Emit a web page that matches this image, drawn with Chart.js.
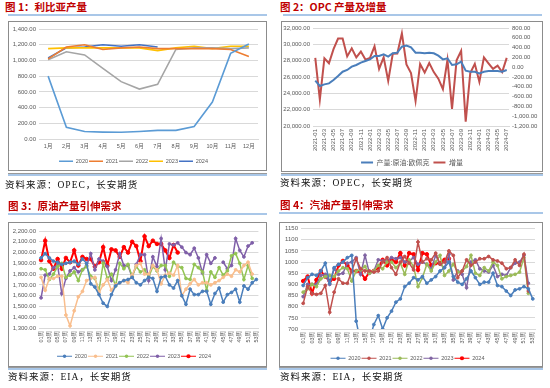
<!DOCTYPE html>
<html>
<head>
<meta charset="utf-8">
<script src="https://cdn.jsdelivr.net/npm/chart.js@4.4.0/dist/chart.umd.min.js"></script>
<style>
body { margin:0; width:550px; height:388px; background:#fff; position:relative; overflow:hidden; }
.title { position:absolute; font-family:"Noto Sans CJK SC"; font-weight:700; font-size:10.5px; line-height:14px; color:#c00000; white-space:nowrap; }
.rule { position:absolute; height:2px; background:#a9c7e8; }
.rule2 { position:absolute; height:2px; background:#a9c7e8; border-top:1px solid #9a9a9a; }
.box { position:absolute; border:1px solid #8c8c8c; box-sizing:border-box; }
.src { position:absolute; font-family:"Liberation Serif","Noto Sans CJK SC"; font-size:9.5px; letter-spacing:1px; line-height:12px; color:#111; white-space:nowrap; }
canvas { position:absolute; }
</style>
</head>
<body>
<div class="title" style="left:5px;top:0px">图 1：利比亚产量</div>
<div class="rule" style="left:8px;top:14px;width:259px"></div>
<div class="box" style="left:8px;top:21px;width:259px;height:150px"></div>
<canvas id="c1" width="256" height="152" style="left:9px;top:22px"></canvas>
<div class="rule2" style="left:8px;top:173px;width:259px"></div>
<div class="src" style="left:5px;top:179px">资料来源：OPEC，长安期货</div>

<div class="title" style="left:280px;top:0px">图 2：OPC 产量及增量</div>
<div class="rule" style="left:283px;top:14px;width:259px"></div>
<div class="box" style="left:281px;top:21px;width:262px;height:151px"></div>
<canvas id="c2" width="260" height="155" style="left:282px;top:21px"></canvas>
<div class="rule2" style="left:281px;top:173px;width:262px"></div>
<div class="src" style="left:280px;top:177px">资料来源：OPEC，长安期货</div>

<div class="title" style="left:8px;top:199px">图 3：原油产量引伸需求</div>
<div class="rule" style="left:8px;top:213px;width:259px"></div>
<div class="box" style="left:8px;top:222px;width:259px;height:145px"></div>
<canvas id="c3" width="257" height="147" style="left:9px;top:222px"></canvas>
<div class="rule2" style="left:8px;top:367px;width:259px"></div>
<div class="src" style="left:8px;top:371px">资料来源：EIA，长安期货</div>

<div class="title" style="left:280px;top:198px">图 4：汽油产量引伸需求</div>
<div class="rule" style="left:279px;top:212px;width:264px"></div>
<div class="box" style="left:279px;top:222px;width:264px;height:145px"></div>
<canvas id="c4" width="263" height="149" style="left:280px;top:222px"></canvas>
<div class="rule2" style="left:279px;top:367px;width:264px"></div>
<div class="src" style="left:280px;top:371px">资料来源：EIA，长安期货</div>

<script>
// 图1 利比亚产量
var months = ['1月', '2月', '3月', '4月', '5月', '6月', '7月', '8月', '9月', '10月', '11月', '12月'];
var libya2020 = [800, 150, 95, 88, 85, 95, 110, 110, 160, 470, 1090, 1210];
var libya2021 = [1020, 1170, 1200, 1140, 1160, 1170, 1150, 1150, 1150, 1150, 1140, 1050];
var libya2022 = [1010, 1110, 1070, 900, 730, 635, 695, 1140, 1160, 1160, 1150, 1160];
var libya2023 = [1150, 1160, 1160, 1160, 1160, 1160, 1125, 1160, 1180, 1150, 1180, 1180];
var libya2024 = [1030, 1160, 1170, 1200, 1180, 1200, 1170];

// 图2 OPEC 产量及增量
var opecMonths = ['2021-01', '2021-02', '2021-03', '2021-04', '2021-05', '2021-06', '2021-07', '2021-08', '2021-09', '2021-10', '2021-11', '2021-12',
  '2022-01', '2022-02', '2022-03', '2022-04', '2022-05', '2022-06', '2022-07', '2022-08', '2022-09', '2022-10', '2022-11', '2022-12',
  '2023-01', '2023-02', '2023-03', '2023-04', '2023-05', '2023-06', '2023-07', '2023-08', '2023-09', '2023-10', '2023-11', '2023-12',
  '2024-01', '2024-02', '2024-03', '2024-04', '2024-05', '2024-06', '2024-07'];
var opecProd = [25550, 24900, 25100, 25220, 25630, 26120, 26650, 26860, 27270, 27470, 27760, 27960,
  28160, 28570, 28570, 28780, 28490, 28900, 28980, 29710, 29840, 29630, 28980, 28980,
  28900, 28980, 28900, 28610, 28160, 28290, 27470, 27550, 27880, 26780, 26650, 26650,
  26450, 26650, 26730, 26730, 26730, 26650, 26860];
var opecInc = [190, -660, 180, 80, 370, 585, 585, 220, 385, 200, 320, 155,
  190, 425, -35, 200, -280, 275, 280, 690, 55, -120, -690, 65,
  -110, 85, -100, -235, -450, 150, -850, 140, 335, -1110, -120, 70,
  -300, 200, 80, -35, 30, -100, 190];

// 周度标签
var weeks = ['01周', '02周', '03周', '04周', '05周', '06周', '07周', '08周', '09周', '10周', '11周', '12周', '13周', '14周', '15周', '16周', '17周', '18周',
  '19周', '20周', '21周', '22周', '23周', '24周', '25周', '26周', '27周', '28周', '29周', '30周', '31周', '32周', '33周', '34周', '35周', '36周',
  '37周', '38周', '39周', '40周', '41周', '42周', '43周', '44周', '45周', '46周', '47周', '48周', '49周', '50周', '51周', '52周', '53周'];

// 图3 原油产量引伸需求
var crude2020 = [1950, 1990, 1950, 1920, 1910, 1890, 1900, 1910, 1920, 1890, 1940, 1900, 1710, 1680, 1610, 1530, 1500, 1610, 1690, 1720, 1740, 1750, 1770, 1720, 1700, 1740,
  1770, 1760, 1640, 1770, 1780, 1700, 1670, 1740, 1600, 1520, 1660, 1610, 1610, 1640, 1640, 1520, 1620, 1670, 1540, 1610, 1630, 1660, 1540, 1690, 1660, 1720, 1750];
var crude2021 = [1770, 1650, 1760, 1760, 1780, 1780, 1420, 1320, 1460, 1590, 1640, 1740, 1760, 1770, 1630, 1700, 1750, 1650, 1700, 1720, 1740, 1720, 1790, 1880, 1900, 1800,
  1800, 1880, 1840, 1710, 1790, 1810, 1790, 1880, 1600, 1660, 1710, 1750, 1700, 1720, 1720, 1700, 1720, 1740, 1770, 1800, 1780, 1840, 1820, 1880, 1910, 1800];
var crude2022 = [1850, 1840, 1750, 1800, 1870, 1900, 1770, 1790, 1820, 1740, 1840, 1870, 1780, 1760, 1650, 1900, 1760, 1800, 1690, 1900, 1850, 1890, 1780, 1870, 1820, 1840,
  1770, 1870, 1830, 1880, 1880, 1780, 1910, 1870, 1860, 1760, 1750, 1890, 1860, 1820, 1650, 1820, 1770, 1860, 1790, 1830, 1970, 1990, 1900, 1750, 1880, 1760];
var crude2023 = [1580, 1790, 1800, 1860, 1880, 1620, 1760, 1830, 1860, 1820, 1840, 1880, 1990, 1840, 1940, 1920, 1870, 1740, 1840, 1990, 1880, 1880, 1770, 1890, 1980, 1980,
  1740, 1960, 1870, 2130, 1840, 2080, 2070, 2090, 2050, 2000, 1980, 2040, 1950, 1810, 1980, 1900, 1950, null, 1910, 1850, 1880, 2130, 2020, 1960, 2060, 2090];
var crude2024 = [1930, 2110, 1920, 1850, 1940, 1850, 1950, 1910, 2020, 1880, 1960, 1940, 1940, 1870, 1910, 2050, 1880, 2030, 2020, 1960, 2050, 2000, 2100, 2060, 1920, 2150,
  2060, 2110, 2080, 2080, 2020, 1950, 2070, 2000];

// 图4 汽油产量引伸需求
var gas2020 = [895, 930, 945, 940, 960, 995, 905, 975, 990, 1000, 1020, 1030, 735, 640, 610, 650, 720, 760, 700, 750, 780, 820, 835, 890, 905, 930,
  920, 935, 905, 920, 935, 960, 975, 1000, 935, 910, 900, 925, 960, 930, 900, 910, 910, 950, 895, 890, 870, 850, 875, 880, 890, 880, 835];
var gas2021 = [815, 890, 860, 855, 860, 895, 775, 865, 925, 905, 905, 960, 1015, 970, 960, 960, 955, 960, 1000, 1020, 975, 945, 1000, 1025, 995, 965,
  1090, 1000, 1015, 1010, 1040, 990, 1000, 1050, 1030, 930, 960, 1010, 985, 1000, 1015, 1015, 1025, 1010, 1005, 995, 970, 975, 1010, 985, 1035, 870];
var gas2022 = [865, 880, 900, 890, 925, 935, 940, 935, 960, 975, 970, 915, 960, 965, 980, 950, 960, 985, 970, 1000, 1000, 975, 995, 945, 1010, 980,
  890, 930, 990, 960, 1000, 1030, 940, 960, 990, 955, 960, 980, 1030, 950, 940, 975, 960, 1000, 985, 925, 935, 940, 945, 955, 1020, 860];
var gas2023 = [845, 900, 900, 900, 940, 945, 900, 970, 945, 950, 995, 1000, 1020, 945, 1030, 950, 960, 1010, 1005, 1005, 1020, 1015, 1020, 1000, 1005, 1020,
  990, 1000, 990, 970, 1030, 990, 975, 1035, 920, 960, 945, 885, 1000, 1010, 970, 960, 955, 985, 935, 945, 940, 975, 995, 1000, 1030, 905];
var gas2024 = [915, 935, 860, 920, 960, 935, 915, 925, 985, 1005, 985, 960, 960, 955, 925, 955, 960, 975, 1010, 985, 1010, 1000, 1040, 985, 1040, 1035,
  965, 1040, 1035, 985, 995, 995, 1010, 1015];

var txt = '#595959';
var gridCol = '#d9d9d9';
var numFont = { family: 'Liberation Sans', size: 6 };
var cjkFont = { family: 'Liberation Sans, "Noto Sans CJK SC"', size: 5.5 };
var fmt2 = function (v) { return v.toLocaleString('en-US', { minimumFractionDigits: 2, maximumFractionDigits: 2 }); };

function line(label, data, color, width, radius) {
  return {
    label: label, data: data, borderColor: color, backgroundColor: color,
    borderWidth: width, pointRadius: radius || 0, pointHoverRadius: 0,
    pointBorderWidth: radius ? 1 : width, pointBackgroundColor: color, pointBorderColor: color,
    tension: 0, fill: false, spanGaps: false
  };
}

function legendOpts(font, pad, boxW) {
  return {
    position: 'bottom',
    labels: { usePointStyle: true, pointStyle: 'line', pointStyleWidth: boxW, padding: pad, font: font, color: txt }
  };
}

// 图例上的小圆点
var legendDots = {
  id: 'legendDots',
  afterDraw: function (chart) {
    var lg = chart.legend;
    var ctx = chart.ctx;
    var bw = lg.options.labels.pointStyleWidth;
    lg.legendHitBoxes.forEach(function (h, i) {
      var ds = chart.data.datasets[i];
      ctx.beginPath();
      ctx.arc(h.left + bw / 2, h.top + h.height / 2, ds.pointRadius + 0.3, 0, Math.PI * 2);
      ctx.fillStyle = ds.borderColor;
      ctx.fill();
    });
  }
};

Chart.defaults.animation = false;
Chart.defaults.responsive = false;
Chart.defaults.plugins.tooltip.enabled = false;

new Chart(document.getElementById('c1').getContext('2d'), {
  type: 'line',
  data: {
    labels: months,
    datasets: [
      line('2020', libya2020, '#5b9bd5', 1.6),
      line('2021', libya2021, '#ed7d31', 1.6),
      line('2022', libya2022, '#a5a5a5', 1.6),
      line('2023', libya2023, '#ffc000', 1.6),
      line('2024', libya2024, '#4472c4', 1.6)
    ]
  },
  options: {
    layout: { padding: { left: 0, right: 7, top: 7, bottom: 0 } },
    plugins: { legend: legendOpts({ family: 'Liberation Sans', size: 5.5 }, 1, 14) },
    scales: {
      x: {
        offset: true,
        grid: { display: false, drawTicks: false },
        border: { color: gridCol },
        ticks: { font: cjkFont, color: txt, padding: 4, maxRotation: 0, autoSkip: false },
        afterFit: function (s) { s.height = 18.5; }
      },
      y: {
        min: 0, max: 1400,
        grid: { color: gridCol, drawTicks: false },
        border: { display: false },
        ticks: { stepSize: 200, callback: fmt2, font: numFont, color: txt, padding: 3, autoSkip: false },
        afterFit: function (s) { s.width = 30; }
      }
    }
  }
});

new Chart(document.getElementById('c2').getContext('2d'), {
  type: 'line',
  data: {
    labels: opecMonths,
    datasets: [
      Object.assign(line('产量:原油:欧佩克', opecProd, '#4a7ebb', 2), { yAxisID: 'y' }),
      Object.assign(line('增量', opecInc, '#c0504d', 2), { yAxisID: 'y1' })
    ]
  },
  options: {
    layout: { padding: { left: 0, right: 0, top: 7, bottom: 0 } },
    plugins: { legend: legendOpts({ family: '"Noto Sans CJK SC"', size: 7 }, 4, 12) },
    scales: {
      x: {
        offset: true,
        grid: { display: false, drawTicks: false },
        border: { color: gridCol },
        ticks: {
          font: numFont, color: txt, padding: 3, minRotation: 90, maxRotation: 90, autoSkip: false,
          callback: function (v, i) { return i % 2 === 0 ? opecMonths[i] : ''; }
        },
        afterFit: function (s) { s.height = 29; }
      },
      y: {
        min: 20000, max: 32000,
        grid: { color: gridCol, drawTicks: false },
        border: { display: false },
        ticks: { stepSize: 2000, callback: fmt2, font: numFont, color: txt, padding: 3, autoSkip: false },
        afterFit: function (s) { s.width = 31; }
      },
      y1: {
        position: 'right',
        min: -1200, max: 800,
        grid: { display: false, drawTicks: false },
        border: { display: false },
        ticks: { stepSize: 200, callback: fmt2, font: numFont, color: txt, padding: 3, autoSkip: false },
        afterFit: function (s) { s.width = 33; }
      }
    }
  }
});

function weekly(id, sets, ymin, ymax, step, fmt, yW, pad, xH) {
  return new Chart(document.getElementById(id).getContext('2d'), {
    type: 'line',
    data: { labels: weeks, datasets: sets },
    options: {
      layout: { padding: pad },
      plugins: { legend: legendOpts({ family: 'Liberation Sans', size: 5.5 }, 1, 15) },
      scales: {
        x: {
          offset: true,
          grid: { display: false, drawTicks: false },
          border: { color: gridCol },
          ticks: {
            font: cjkFont, color: txt, padding: 3, minRotation: 90, maxRotation: 90, autoSkip: false,
            callback: function (v, i) { return i % 2 === 0 ? weeks[i] : ''; }
          },
          afterFit: function (s) { s.height = xH; }
        },
        y: {
          min: ymin, max: ymax,
          grid: { color: gridCol, drawTicks: false },
          border: { display: false },
          ticks: { stepSize: step, callback: fmt, font: numFont, color: txt, padding: 3, autoSkip: false },
          afterFit: function (s) { s.width = yW; }
        }
      }
    },
    plugins: [legendDots]
  });
}

weekly('c3', [
  line('2020', crude2020, '#4a7ebb', 1.5, 1.4),
  line('2021', crude2021, '#f9be8d', 1.5, 1.4),
  line('2022', crude2022, '#92c353', 1.5, 1.4),
  line('2023', crude2023, '#7f5fa8', 1.5, 1.4),
  line('2024', crude2024, '#ff0000', 2, 1.8)
], 1300, 2200, 100, fmt2, 30, { left: 0, right: 7, top: 9, bottom: 0 }, 24.5);

weekly('c4', [
  line('2020', gas2020, '#4a7ebb', 1.5, 1.4),
  line('2021', gas2021, '#c0504d', 1.5, 1.4),
  line('2022', gas2022, '#9bbb59', 1.5, 1.4),
  line('2023', gas2023, '#8064a2', 1.5, 1.4),
  line('2024', gas2024, '#ff0000', 2, 1.8)
], 700, 1150, 50, function (v) { return String(v); }, 21, { left: 0, right: 8, top: 6, bottom: 0 }, 25.5);
</script>
</body>
</html>
